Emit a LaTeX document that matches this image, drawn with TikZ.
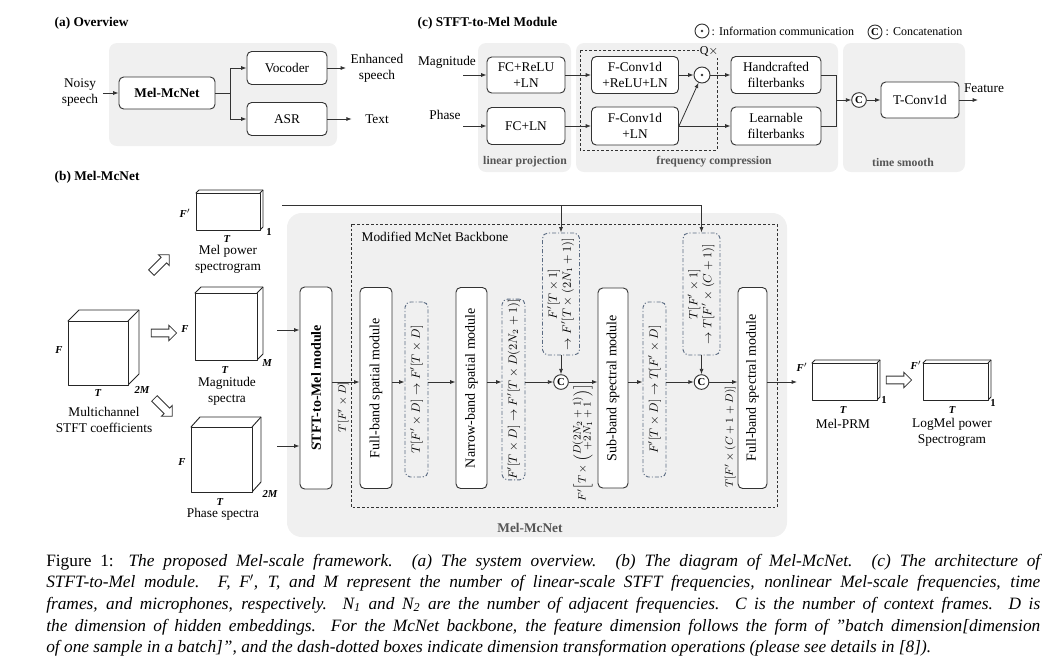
\documentclass[tikz,border=0pt]{standalone}
\usepackage{fontspec}
\setmainfont{Liberation Serif}
\usepackage{amsmath}
\usetikzlibrary{arrows.meta,shapes.arrows}

\definecolor{panelgray}{HTML}{F0F0F0}
\definecolor{boxline}{HTML}{333333}
\definecolor{ddline}{HTML}{5B6B82}
\definecolor{labgray}{HTML}{555555}

\newcommand{\cuboid}[6]{%
	\draw[cube] (#1,#2) -- ++(#5,-#6) -- ++(#3-#1,0) -- ++(0,#4-#2) -- ++(-#5,#6) -- cycle;
	\draw[cube] (#1,#2) rectangle (#3,#4);
	\draw[cube] (#3,#2) -- ++(#5,-#6);
}

\begin{document}
\begin{tikzpicture}[x=0.75pt, y=-0.75pt,
	blk/.style={draw=boxline, line width=0.7pt, rounded corners=3.5pt, fill=white, align=center, inner sep=1pt},
	sz/.style 2 args={minimum width=#1*0.75pt, minimum height=#2*0.75pt},
	mod/.style={blk, font=\fontsize{10.5}{12}\selectfont},
	ddbox/.style={draw=ddline, line width=0.7pt, dash pattern=on 3pt off 1.5pt on 0.8pt off 1.5pt, rounded corners=4pt, inner sep=0pt, font=\fontsize{9}{10.5}\selectfont},
	panel/.style={fill=panelgray, rounded corners=6pt},
	arr/.style={-{Latex[length=4pt,width=3pt]}, line width=0.6pt, draw=boxline},
	line/.style={line width=0.6pt, draw=boxline},
	cc/.style={circle, draw=boxline, line width=0.7pt, fill=white, inner sep=0pt, minimum size=11pt, font=\footnotesize\bfseries},
	odot/.style={circle, draw=boxline, line width=0.7pt, fill=white, inner sep=0pt, minimum size=12pt, path picture={\fill[boxline] (path picture bounding box.center) circle (1.1pt);}},
	cube/.style={draw=black!85, line width=0.7pt, fill=white, line join=round},
	dim/.style={font=\fontsize{8}{9}\selectfont\bfseries\itshape},
	plab/.style={font=\fontsize{8.8}{10}\selectfont\bfseries, text=labgray},
	hollow/.style={single arrow, draw=boxline, fill=white, line width=0.6pt, minimum height=19pt, minimum width=11pt, inner sep=2.6pt, single arrow head extend=2.9pt},
	rlab/.style={font=\fontsize{8.5}{10}\selectfont},
	]
	\useasboundingbox (0,0) rectangle (1062,662);

	% (a) overview
	\node[anchor=west, font=\bfseries] (ta) at (50,23) {(a) Overview};
	\fill[panel] (109,43) rectangle (337,146);
	\node[align=center] (noisy) at (80,92) {Noisy\\speech};
	\node[blk, sz={96}{32}, font=\bfseries] (melmc) at (167,93) {Mel-McNet};
	\node[blk, sz={80}{33}] (voc) at (287,68) {Vocoder};
	\node[blk, sz={80}{33}] (asr) at (287,119) {ASR};
	\node[align=center, minimum width=37.5pt] (enh) at (377,68) {Enhanced\\speech};
	\node[minimum width=37.5pt] (txt) at (377,119) {Text};
	\coordinate (split) at (230,93);
	\draw[arr] (noisy.east |- melmc) -- (melmc.west);
	\draw[line] (melmc.east) -- (split);
	\draw[arr] (split) |- (voc.west);
	\draw[arr] (split) |- (asr.west);
	\draw[arr] (voc.east) -- (enh.west |- voc);
	\draw[arr] (asr.east) -- (txt.west |- asr);

	% (c) STFT-to-Mel module
	\node[anchor=west, font=\bfseries] (tc) at (413,23) {(c) STFT-to-Mel Module};
	\fill[panel] (478,43) rectangle (571,172);
	\fill[panel] (576,43) rectangle (838,172);
	\fill[panel] (843,43) rectangle (965,172);
	\node[plab] (lp) at (525,162) {linear projection};
	\node[plab] (fcp) at (714,162) {frequency compression};
	\node[plab] (tsm) at (903,162) {time smooth};
	\draw[boxline, line width=0.7pt, dash pattern=on 2pt off 1.5pt] (580,50) rectangle (717,150);
	\node[fill=panelgray, inner sep=0.5pt, font=\small] (qx) at (709,51) {Q$\times$};

	\node[odot, minimum size=10.5pt] (lgo) at (702,31) {};
	\node[anchor=west, font=\fontsize{9}{10}\selectfont] (lgot) at (707,31) {: Information communication};
	\node[cc, minimum size=10.5pt] (lgc) at (875,32) {C};
	\node[anchor=west, font=\fontsize{9}{10}\selectfont] (lgct) at (881,32) {: Concatenation};

	\node (magT) at (447,62) {Magnitude};
	\node (phT) at (445,115) {Phase};
	\coordinate (magin) at (463,75);
	\coordinate (phin) at (463,126);
	\node[blk, sz={78}{36}] (fcr) at (526,75) {FC+ReLU\\+LN};
	\node[blk, sz={78}{37}] (fcl) at (526,126) {FC+LN};
	\node[blk, sz={87}{37}] (fcv1) at (635,75) {F-Conv1d\\+ReLU+LN};
	\node[blk, sz={87}{38}] (fcv2) at (635,126) {F-Conv1d\\+LN};
	\node[odot] (ic) at (702,75) {};
	\node[blk, sz={90}{37}] (hf) at (776,75) {Handcrafted\\filterbanks};
	\node[blk, sz={90}{38}] (lf) at (776,126) {Learnable\\filterbanks};
	\coordinate (merge) at (836,100);
	\node[cc] (cat) at (859,100) {C};
	\node[blk, sz={78}{36}] (tconv) at (920,100) {T-Conv1d};
	\coordinate (featout) at (978,100);
	\node (feat) at (984,88) {Feature};

	\draw[arr] (magin) -- (fcr);
	\draw[arr] (phin) -- (fcl);
	\draw[arr] (fcr) -- (fcv1);
	\draw[arr] (fcl) -- (fcv2);
	\draw[arr] (fcv1) -- (ic);
	\draw[arr] (fcv2.east) -- (ic);
	\draw[arr] (ic) -- (hf);
	\draw[arr] (fcv2) -- (lf);
	\draw[line] (hf.east) -| (merge);
	\draw[line] (lf.east) -| (merge);
	\draw[arr] (merge) -- (cat);
	\draw[arr] (cat) -- (tconv);
	\draw[arr] (tconv) -- (featout);

	% (b) Mel-McNet
	\node[anchor=west, font=\bfseries] (tb) at (50,177) {(b) Mel-McNet};
	\fill[panel, rounded corners=11pt] (287,213) rectangle (787,537);
	\node[font=\bfseries, text=labgray] (mmlab) at (530,528) {Mel-McNet};
	\draw[boxline, line width=0.7pt, dash pattern=on 2pt off 1.5pt] (351,224) rectangle (777,507);
	\node[anchor=west] (bb) at (357,237) {Modified McNet Backbone};

	\cuboid{196}{193}{260}{230}{3}{3}
	\node[dim] (f1) at (185,213) {F$'$};
	\node[font=\fontsize{8}{9}\selectfont\bfseries] (o1) at (269,232) {1};
	\node[dim] (t1) at (227,239) {T};
	\node[align=center] (melpow) at (228,259) {Mel power\\spectrogram};

	\cuboid{68}{321}{128}{385}{11}{11}
	\node[dim] (f2) at (59,350) {F};
	\node[dim] (t2) at (98,393) {T};
	\node[dim] (m2) at (142,390) {2M};
	\node[align=center] (stftc) at (104,420) {Multichannel\\STFT coefficients};

	\cuboid{195}{293}{257}{360}{6}{6}
	\node[dim] (f3) at (185,329) {F};
	\node[dim] (m3) at (267,363) {M};
	\node[dim] (t3) at (225,370) {T};
	\node[align=center] (magsp) at (227,391) {Magnitude\\spectra};

	\cuboid{191}{427}{252}{492}{9}{10}
	\node[dim] (f4) at (182,462) {F};
	\node[dim] (m4) at (270,494) {2M};
	\node[dim] (t4) at (220,502) {T};
	\node (phsp) at (223,514) {Phase spectra};

	\node[hollow, rotate=45] (ha1) at (159,265) {};
	\node[hollow] (ha2) at (162,333) {};
	\node[hollow, rotate=-45] (ha3) at (162,406) {};

	\coordinate (flow) at (0,382);
	\coordinate (magout) at (277,330);
	\coordinate (phout) at (277,446);
	\coordinate (melline) at (282,205);

	\node[mod, sz={32}{202}] (stft) at (316,388) {\rotatebox{90}{\bfseries STFT-to-Mel module}};
	\node[mod, sz={32}{201}] (fbs) at (376,388) {\rotatebox{90}{Full-band spatial module}};
	\node[ddbox, sz={23}{175}] (dd1) at (416.5,389.5) {\rotatebox{90}{$T[F'\times D]\rightarrow F'[T\times D]$}};
	\node[mod, sz={31}{201}] (nbs) at (471.5,388) {\rotatebox{90}{Narrow-band spatial module}};
	\node[ddbox, sz={23}{175}] (dd2) at (513.5,389.5) {\rotatebox{90}{$F'[T\times D]\rightarrow F'[T\times D(2N_2+1)]$}};
	\node[ddbox, sz={37}{122}] (dd3) at (561,294) {\rotatebox{90}{\begin{tabular}{@{}c@{}}$F'[T\times 1]$\\$\rightarrow F'[T\times(2N_1+1)]$\end{tabular}}};
	\node[cc] (c1) at (561,382) {C};
	\node[mod, sz={30}{200}] (sbs) at (613,388) {\rotatebox{90}{Sub-band spectral module}};
	\node[ddbox, sz={23}{175}] (dd4) at (654.5,389.5) {\rotatebox{90}{$F'[T\times D]\rightarrow T[F'\times D]$}};
	\node[ddbox, sz={37}{122}] (dd5) at (701.5,294) {\rotatebox{90}{\begin{tabular}{@{}c@{}}$T[F'\times 1]$\\$\rightarrow T[F'\times(C+1)]$\end{tabular}}};
	\node[cc] (c2) at (701.5,382) {C};
	\node[mod, sz={29}{201}] (fbsp) at (752.5,388) {\rotatebox{90}{Full-band spectral module}};

	\node[rlab] (lab1) at (343,407) {\rotatebox{90}{$T[F'\times D]$}};
	\node[rlab] (lab2) at (583,443) {\rotatebox{90}{$F'\!\left[T\times\renewcommand{\arraystretch}{0.7}\begin{pmatrix}D(2N_2+1)\\ +2N_1+1\end{pmatrix}\right]$}};
	\node[rlab] (lab3) at (730,437) {\rotatebox{90}{$T[F'\times(C+1+D)]$}};

	\draw[arr] (magout) -- (stft.west |- magout);
	\draw[arr] (phout) -- (stft.west |- phout);
	\draw[arr] (stft.east |- flow) -- (fbs.west |- flow);
	\draw[arr] (fbs.east |- flow) -- (dd1.west |- flow);
	\draw[arr] (dd1.east |- flow) -- (nbs.west |- flow);
	\draw[arr] (nbs.east |- flow) -- (dd2.west |- flow);
	\draw[arr] (dd2.east |- flow) -- (c1);
	\draw[arr] (dd3) -- (c1);
	\draw[arr] (c1) -- (sbs.west |- flow);
	\draw[arr] (sbs.east |- flow) -- (dd4.west |- flow);
	\draw[arr] (dd4.east |- flow) -- (c2);
	\draw[arr] (dd5) -- (c2);
	\draw[arr] (c2) -- (fbsp.west |- flow);
	\draw[line] (melline) -- (dd5.north |- melline);
	\draw[arr] (dd3.north |- melline) -- (dd3.north);
	\draw[arr] (dd5.north |- melline) -- (dd5.north);

	\coordinate (prmin) at (797,382);
	\draw[arr] (fbsp.east |- flow) -- (prmin);
	\cuboid{812}{363}{877}{400}{3}{3}
	\node[dim] (f5) at (802,367) {F$'$};
	\node[font=\fontsize{8}{9}\selectfont\bfseries] (o5) at (884,400) {1};
	\node[dim] (t5) at (843,410) {T};
	\node (prm) at (843,424) {Mel-PRM};
	\node[hollow] (ha4) at (897,380) {};
	\cuboid{923}{363}{988}{400}{3}{3}
	\node[dim] (f6) at (916,365) {F$'$};
	\node[font=\fontsize{8}{9}\selectfont\bfseries] (o6) at (993,403) {1};
	\node[dim] (t6) at (952,410) {T};
	\node[align=center] (logmel) at (952,432) {LogMel power\\Spectrogram};

	% caption
	\node[anchor=west, inner sep=0pt, font=\fontsize{13}{15}\selectfont] (cap1) at (46,562) {\makebox[745.5pt][s]{Figure 1: \itshape The proposed Mel-scale framework. (a) The system overview. (b) The diagram of Mel-McNet. (c) The architecture of}};
	\node[anchor=west, inner sep=0pt, font=\fontsize{13}{15}\selectfont\itshape] (cap2) at (46,583) {\makebox[745.5pt][s]{STFT-to-Mel module. F, F$'$, T, and M represent the number of linear-scale STFT frequencies, nonlinear Mel-scale frequencies, time}};
	\node[anchor=west, inner sep=0pt, font=\fontsize{13}{15}\selectfont\itshape] (cap3) at (46,605) {\makebox[745.5pt][s]{frames, and microphones, respectively. N\textsubscript{1} and N\textsubscript{2} are the number of adjacent frequencies. C is the number of context frames. D is}};
	\node[anchor=west, inner sep=0pt, font=\fontsize{13}{15}\selectfont\itshape] (cap4) at (46,627) {\makebox[745.5pt][s]{the dimension of hidden embeddings. For the McNet backbone, the feature dimension follows the form of \textquotedblright batch dimension[dimension}};
	\node[anchor=west, inner sep=0pt, font=\fontsize{13}{15}\selectfont\itshape] (cap5) at (46,648) {of one sample in a batch]\textquotedblright, and the dash-dotted boxes indicate dimension transformation operations (please see details in [8]).};
\end{tikzpicture}
\end{document}
